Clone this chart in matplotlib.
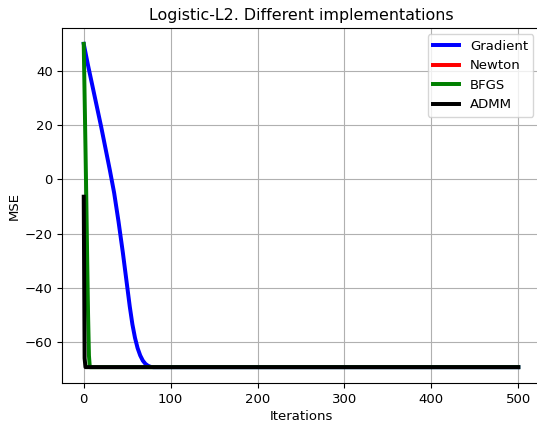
import matplotlib
matplotlib.use("Agg")
import matplotlib.pyplot as plt

# MSE per iteration for each solver (sparse checkpoints, flat after convergence)
grad_iters = [0, 5, 10, 15, 20, 25, 30, 35, 40, 45, 50, 53, 56, 59, 62, 65, 68, 71, 74, 77, 80, 500]
grad_mse = [50, 42, 34.5, 27, 19.5, 11.5, 3.5, -5, -15.5, -27, -39.5, -47, -53.5, -58.5,
            -62.3, -65, -66.9, -68.1, -68.8, -69.2, -69.3, -69.3]

newton_iters = [0, 1, 2, 3, 4, 5, 6, 7, 500]
newton_mse = [50, 31, 12, -8, -30, -50, -65, -69.3, -69.3]

bfgs_iters = [0, 1, 2, 3, 4, 5, 6, 7, 500]
bfgs_mse = [50, 31, 12, -8, -30, -50, -65, -69.3, -69.3]

admm_iters = [0, 1, 2, 500]
admm_mse = [-6.4, -66, -69.3, -69.3]

s = 0.95  # overall text/line scale
plt.rcParams.update({
    'font.size': 10 * s,
    'axes.titlesize': 12 * s,
    'xtick.major.size': 3.5 * s,
    'ytick.major.size': 3.5 * s,
    'xtick.major.pad': 3.5 * s,
    'ytick.major.pad': 3.5 * s,
    'axes.labelpad': 3,
    'axes.titlepad': 6 * s,
})

fig = plt.figure(figsize=(5.37, 4.22), dpi=100)
ax = fig.add_axes([62 / 537, (422 - 383.3) / 422, 478 / 537, (383.3 - 27.7) / 422])

lw = 3 * s
ax.plot(grad_iters, grad_mse, color='blue', lw=lw, label='Gradient')
# Newton follows the BFGS path; keep it a touch thinner so it stays underneath
ax.plot(newton_iters, newton_mse, color='red', lw=lw * 0.6, label='Newton')
ax.plot(bfgs_iters, bfgs_mse, color='green', lw=lw, label='BFGS')
ax.plot(admm_iters, admm_mse, color='black', lw=lw, label='ADMM')

ax.grid(True)
ax.set_xlabel('Iterations')
ax.set_ylabel('MSE')
ax.set_title('Logistic-L2. Different implementations')
leg = ax.legend(loc='upper right')
for line in leg.get_lines():
    line.set_linewidth(lw)

fig.savefig('out.png', dpi=100)
